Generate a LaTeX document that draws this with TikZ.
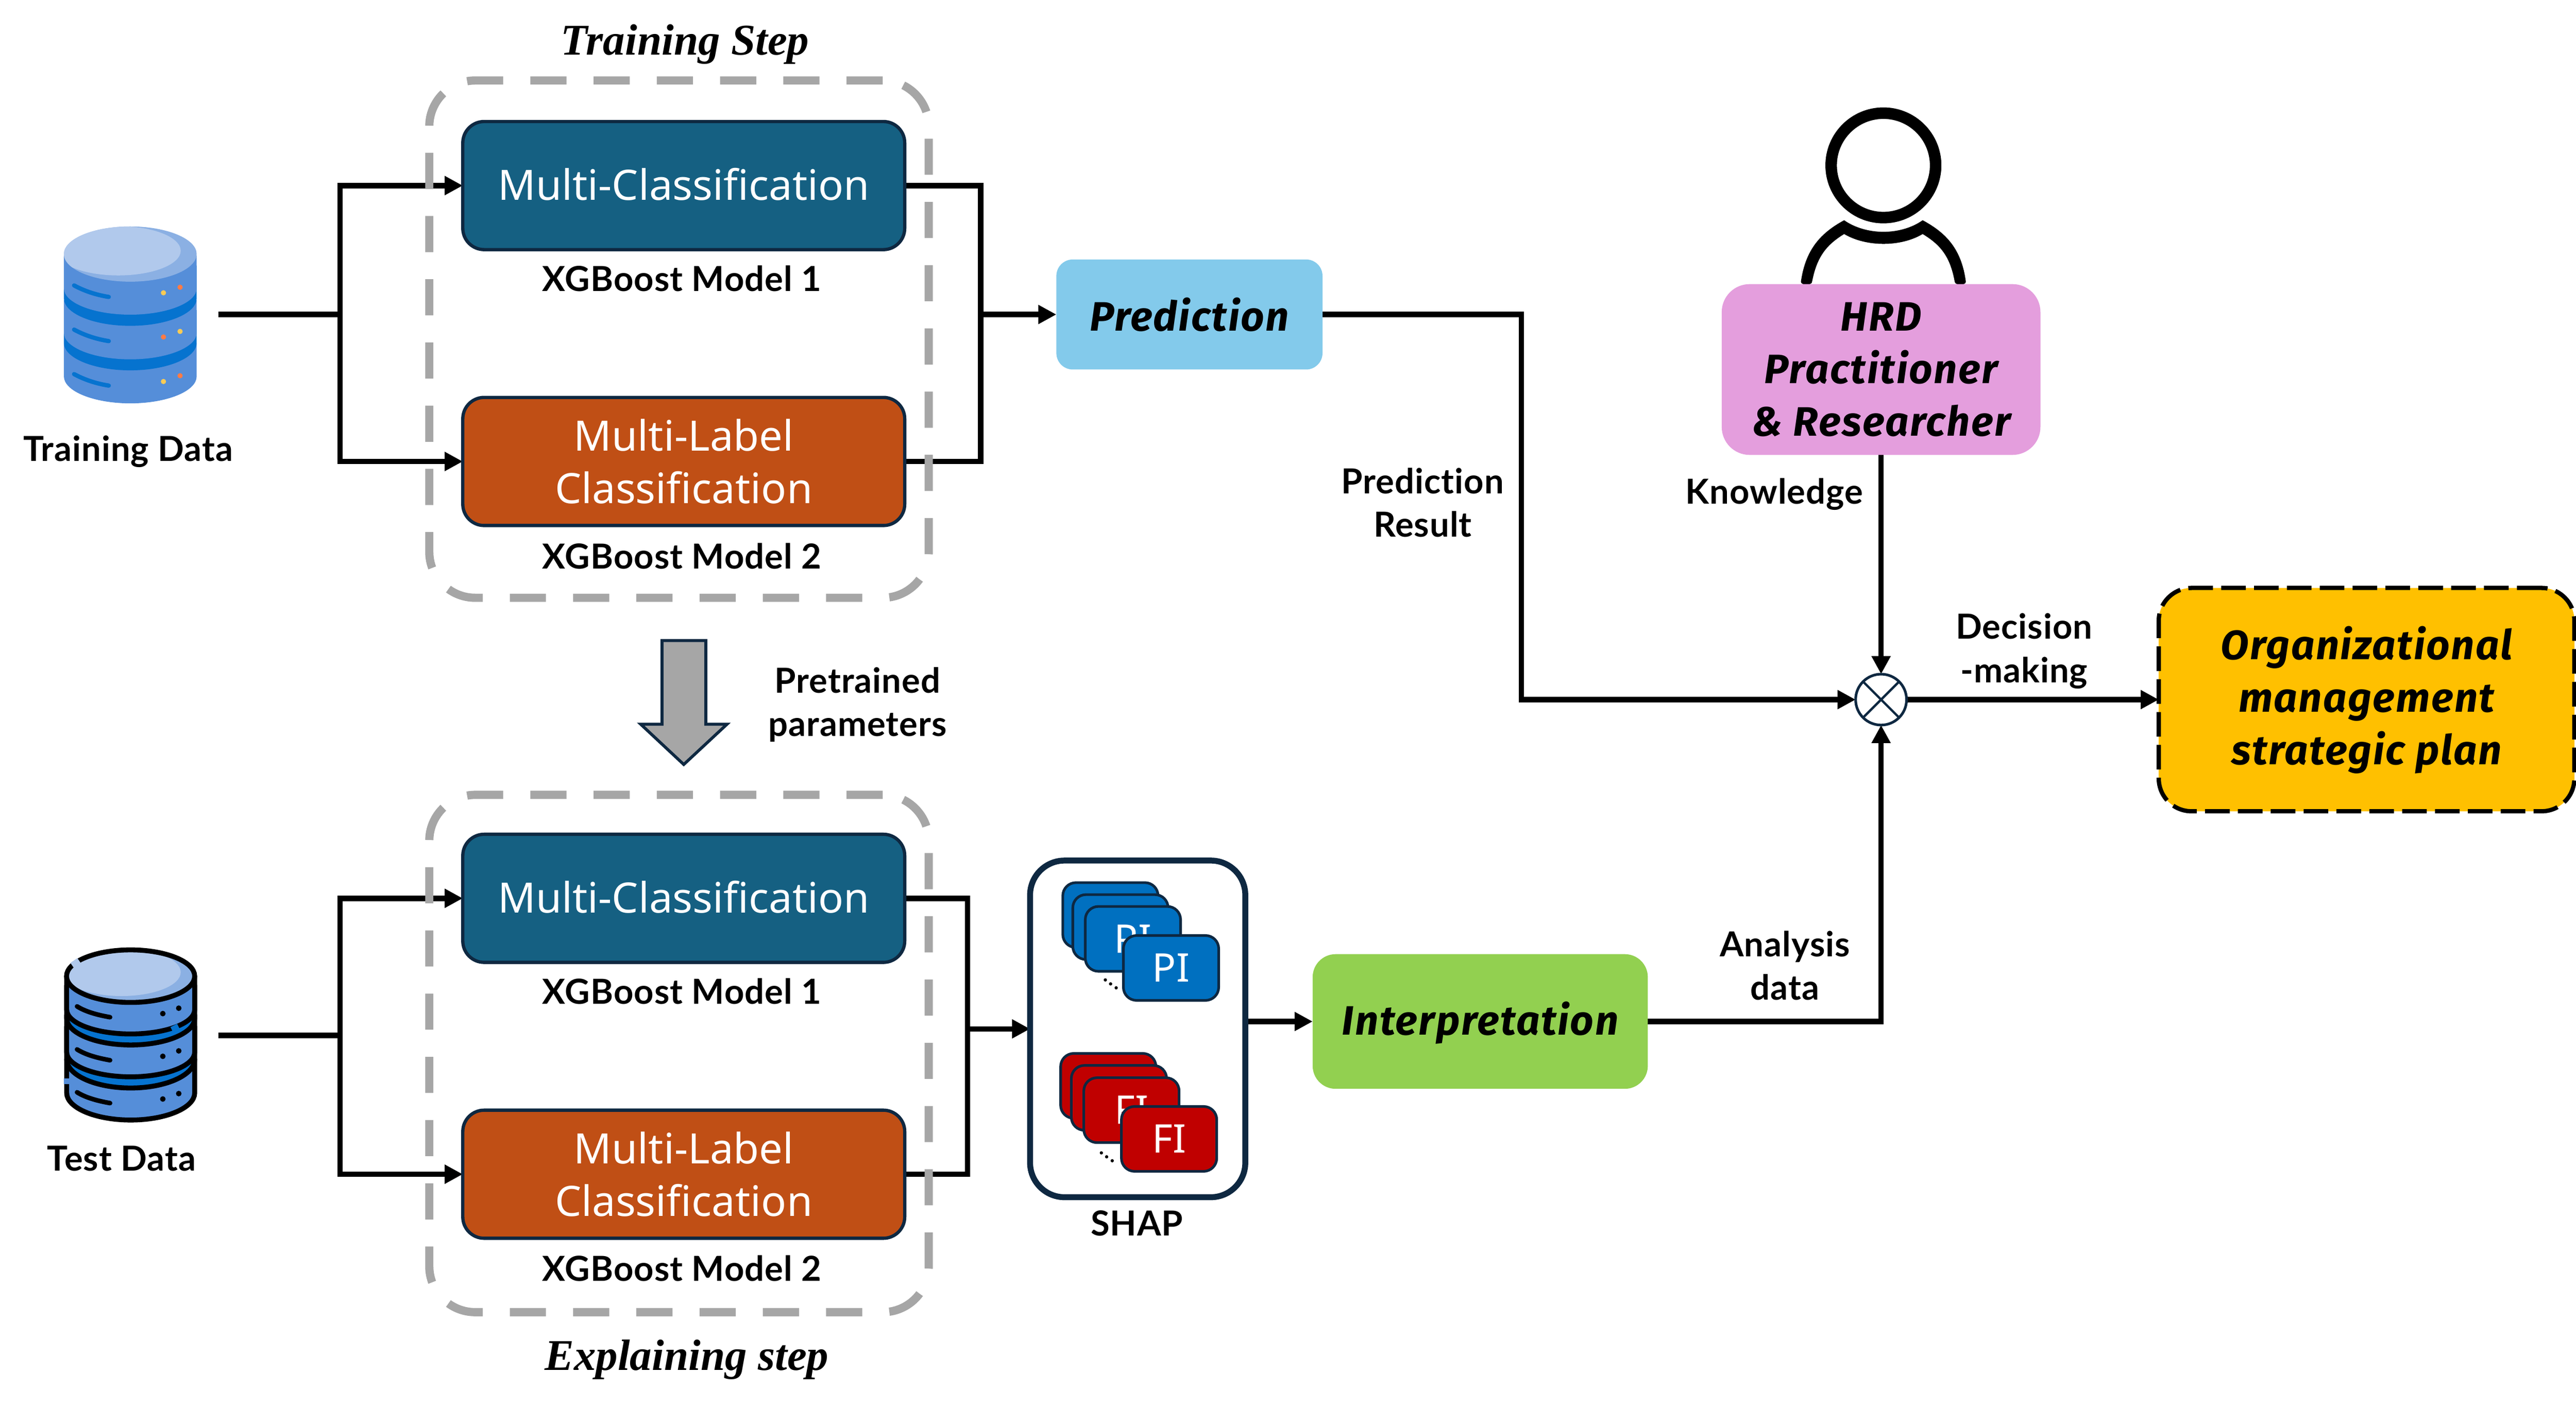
\documentclass[tikz,border=0pt]{standalone}
\usepackage{fontspec}
\setmainfont{Noto Sans}
\newfontfamily\serifbi{Liberation Serif}
\newfontfamily\labfont[Ligatures=NoCommon,LetterSpace=1.5]{Lato}
\newfontfamily\softfont[LetterSpace=3]{Fira Sans}
\usetikzlibrary{arrows.meta}
\definecolor{nav}{HTML}{0E2841}
\definecolor{modelblue}{HTML}{156082}
\definecolor{modelorange}{HTML}{C04F15}
\definecolor{gr}{HTML}{A6A6A6}
\definecolor{predc}{HTML}{83CAEB}
\definecolor{hrdc}{HTML}{E49EDD}
\definecolor{orgc}{HTML}{FFC000}
\definecolor{interc}{HTML}{92D050}
\definecolor{pic}{HTML}{0070C0}
\definecolor{fic}{HTML}{C00000}
\definecolor{dbbody}{HTML}{558ED9}
\definecolor{dbband}{HTML}{0673CF}
\definecolor{dblight}{HTML}{B1C9EC}
\definecolor{dbmid}{HTML}{8BB0E3}
\definecolor{dbyel}{HTML}{F9CB55}
\definecolor{dbora}{HTML}{FF7B45}
\pgfdeclarelayer{conn}
\pgfsetlayers{conn,main}
\newcommand{\halfell}[4]{(#1,#3) .. controls (#1,{#3+.55*#4}) and ({#1+.225*(#2-#1)},{#3+#4}) .. ({(#1+#2)/2},{#3+#4}) .. controls ({#2-.225*(#2-#1)},{#3+#4}) and (#2,{#3+.55*#4}) .. (#2,#3)}
\newcommand{\dbfill}[5]{\fill[#1] (#2,{#4-20}) -- \halfell{#2}{#3}{#4}{#5} -- (#3,{#4-20}) -- cycle;}
\newcommand{\dbsec}[6]{\fill[#1] (#2,#6) -- \halfell{#2}{#3}{#4}{#5} -- (#3,#6) -- cycle;
  \draw[line width=3pt,line cap=round] (#2,#6) -- \halfell{#2}{#3}{#4}{#5} -- (#3,#6);}
\tikzset{
  every node/.style={inner sep=0pt,outer sep=0pt},
  conn/.style={line width=3.3pt,line join=miter},
  arr/.style={conn,-{Triangle[length=11pt,width=11pt]}},
  graybox/.style={draw=gr,line width=5pt,rounded corners=28pt,dash pattern=on 22pt off 16.5pt,minimum width=304pt,minimum height=315pt},
  modelbox/.style={draw=nav,line width=2pt,rounded corners=13pt,minimum width=269pt,minimum height=78pt,text=white,align=center,font=\fontsize{25.5}{32}\selectfont},
  softbox/.style={rounded corners=#1,align=center,font=\softfont\fontsize{25}{32}\selectfont\bfseries\itshape},
  lab/.style={align=center,font=\labfont\fontsize{21}{26.5}\selectfont\bfseries},
  steptitle/.style={font=\fontsize{26.7}{32}\selectfont\serifbi\bfseries\itshape},
  card/.style={draw=nav,line width=1.6pt,rounded corners=8pt,minimum width=58pt,minimum height=39.5pt,text=white,font=\fontsize{24}{26}\selectfont},
}
\begin{document}
\begin{tikzpicture}[x=1pt,y=-1pt]
\useasboundingbox (0,0) rectangle (1568,856.75);
% --- training database icon
\dbfill{dbbody}{38.9}{119.7}{229.2}{16.4}
\dbfill{dbband}{38.9}{119.7}{208.8}{16.7}
\dbfill{dbbody}{38.9}{119.7}{202.7}{16.1}
\dbfill{dbband}{38.9}{119.7}{181.7}{16.7}
\dbfill{dbbody}{38.9}{119.7}{175.6}{16}
\fill[dbmid] (79.3,154.7) ellipse [x radius=40.4pt,y radius=16.8pt];
\begin{scope}
\clip (79.3,154.7) ellipse [x radius=40.4pt,y radius=16.8pt];
\fill[dblight] (72,152.7) ellipse [x radius=38pt,y radius=15pt];
\end{scope}
\foreach \yy in {0,26.9,54}{
  \draw[dbband,line width=2.6pt,line cap=round] (45.1,{173.8+\yy}) .. controls (51,{177+\yy}) and (58,{179.5+\yy}) .. (66.2,{180.8+\yy});}
\fill[dbyel] (99.5,178.3) circle (1.6pt);\fill[dbora] (109.6,174.9) circle (1.6pt);
\fill[dbora] (99.5,205.2) circle (1.6pt);\fill[dbyel] (109.6,201.8) circle (1.6pt);
\fill[dbyel] (99.5,232.3) circle (1.6pt);\fill[dbora] (109.6,228.8) circle (1.6pt);
% --- test database icon
\dbsec{dbbody}{40.6}{118.5}{665.5}{16.5}{645}
\dbsec{dbband}{40.6}{118.5}{645}{17.5}{625}
\dbsec{dbbody}{40.6}{118.5}{640.7}{15}{618}
\dbsec{dbband}{40.6}{118.5}{620}{16.3}{600}
\dbsec{dbbody}{40.6}{118.5}{614.8}{14.8}{594.4}
\fill[dbmid] (79.5,594.4) ellipse [x radius=39pt,y radius=16pt];
\begin{scope}
\clip (79.5,594.4) ellipse [x radius=39pt,y radius=16pt];
\fill[dblight] (74,592) ellipse [x radius=36pt,y radius=14.5pt];
\end{scope}
\draw[line width=3pt] (79.5,594.4) ellipse [x radius=39pt,y radius=16pt];
\draw[dblight,line width=3.6pt] (43.9,587.8) -- (48.1,584.9);
\draw[dbband,line width=3.6pt] (104.6,627) -- (108.6,625);
\draw[dbbody,line width=3.6pt] (40.6,656.8) -- (40.6,660.2);
\foreach \yy in {0,26.2,52.3}{
  \draw[line width=2.8pt,line cap=round] (46.9,{612.8+\yy}) .. controls (52,{616+\yy}) and (59,{618+\yy}) .. (67,{619.4+\yy});}
\foreach \yy in {0,26,52}{
  \fill (99.1,{617.2+\yy}) circle (1.7pt);\fill (108.8,{613.9+\yy}) circle (1.7pt);}
% --- person icon
\draw[line width=7pt] (1146.4,100.7) circle (31.8pt);
\fill[line join=round] (1096.2,171.5) .. controls (1099,152) and (1108,142) .. (1122.5,134.1)
  .. controls (1136,143.5) and (1157,143.5) .. (1170.3,134.1)
  .. controls (1185,142) and (1194,152) .. (1196.6,171.5)
  .. controls (1196.6,174) and (1190,174) .. (1189.8,171.5)
  .. controls (1187,156) and (1181,149) .. (1170.3,142.5)
  .. controls (1157,150.5) and (1136,150.5) .. (1122.5,142.5)
  .. controls (1112,149) and (1106,156) .. (1103,171.5)
  .. controls (1103,174) and (1096.2,174) .. (1096.2,171.5) -- cycle;
% --- training step
\node[graybox] (trainframe) at (413.3,206.5) {};
\node[modelbox,fill=modelblue] (mc1) at (416.2,113) {\rule[-2pt]{0pt}{1pt}Multi-Classification};
\node[modelbox,fill=modelorange] (ml1) at (416.2,281) {Multi-Label\\Classification};
\node[lab] (xg1) at (415,169.5) {XGBoost Model 1};
\node[lab] (xg2) at (415,338.5) {XGBoost Model 2};
\node[steptitle] (traintitle) at (417,27) {Training Step};
% --- explaining step
\node[graybox] (testframe) at (413.3,641.5) {};
\node[modelbox,fill=modelblue] (mc2) at (416.2,547) {\rule[-2pt]{0pt}{1pt}Multi-Classification};
\node[modelbox,fill=modelorange] (ml2) at (416.2,715) {Multi-Label\\Classification};
\node[lab] (xg3) at (415,603.5) {XGBoost Model 1};
\node[lab] (xg4) at (415,772.5) {XGBoost Model 2};
\node[steptitle] (testtitle) at (418,828) {Explaining step};
% --- data labels
\node[lab] (trainlab) at (78,275) {Training Data};
\node[lab] (testlab) at (74,705.5) {Test Data};
\coordinate (trainout) at (133,191.5);
\coordinate (testout) at (133,630.5);
\coordinate (j1) at (207,191.5);
\coordinate (j2) at (207,630.5);
\coordinate (j3) at (597,191.5);
\coordinate (j4) at (589,626.5);
% --- prediction and the others
\node[softbox=10pt,fill=predc,minimum width=162pt,minimum height=67pt] (pred) at (724,191.5) {Prediction};
\node[softbox=17pt,fill=hrdc,minimum width=194pt,minimum height=104pt] (hrd) at (1145,225) {HRD\\Practitioner\\\& Researcher};
\node[softbox=20pt,fill=orgc,draw=black,line width=2.6pt,dash pattern=on 15pt off 5pt,minimum width=253pt,minimum height=136pt] (org) at (1440.5,426) {\rule{0pt}{20.5pt}Organizational\\management\\strategic plan};
\node[softbox=14pt,fill=interc,minimum width=204pt,minimum height=82pt] (inter) at (901,622) {\rule{0pt}{22pt}Interpretation};
\node[circle,draw=nav,line width=1.6pt,fill=white,minimum size=31pt] (mix) at (1145,426) {};
\draw[nav,line width=1.4pt] (mix.45) -- (mix.225) (mix.135) -- (mix.315);
% --- SHAP
\node[draw=nav,line width=3.6pt,rounded corners=21pt,fill=white,minimum width=131pt,minimum height=205pt] (shap) at (692.5,626.5) {};
\node[card,fill=pic] (pi1) at (675.9,557.2) {};
\node[card,fill=pic] (pi2) at (682,564.5) {};
\node[card,fill=pic] (pi3) at (689.6,571.7) {PI};
\node[card,fill=pic] (pi4) at (712.8,589.4) {PI};
\node[card,fill=fic] (fi1) at (674.6,661.2) {};
\node[card,fill=fic] (fi2) at (681.1,668.5) {};
\node[card,fill=fic] (fi3) at (688.7,676) {FI};
\node[card,fill=fic] (fi4) at (711.6,693.5) {FI};
\foreach \dx/\dy [count=\i] in {672.8/596.7,676/599.1,679.4/601.5,670.4/702,673.6/704.4,677/706.8}
  \fill (\dx,\dy) circle (1pt);
\node[lab] (shaplab) at (692,745) {SHAP};
% --- edge labels
\node[lab] (predres) at (866,306) {Prediction\\Result};
\node[lab] (know) at (1080,301) {Knowledge};
\node[lab] (dec) at (1232,396.5) {Decision\\-making};
\node[lab] (ana) at (1086.5,588) {Analysis\\data};
\node[lab] (pre) at (522,429) {Pretrained\\parameters};
% --- block arrow
\draw[fill=gr,draw=nav,line width=1.8pt,line join=miter] (403,390) -- (429.6,390) -- (429.6,441) -- (442.5,441) -- (416.2,465.5) -- (390,441) -- (403,441) -- cycle;
% --- connectors
\begin{pgfonlayer}{conn}
\draw[conn] (trainout) -- (j1);
\draw[arr] (j1) |- (mc1.west);
\draw[arr] (j1) |- (ml1.west);
\draw[conn] (testout) -- (j2);
\draw[arr] (j2) |- (mc2.west);
\draw[arr] (j2) |- (ml2.west);
\draw[conn] (mc1.east) -| (j3);
\draw[conn] (ml1.east) -| (j3);
\draw[arr] (j3) -- (pred.west);
\draw[conn] (mc2.east) -| (j4);
\draw[conn] (ml2.east) -| (j4);
\draw[arr] (j4) -- (shap.west |- j4);
\draw[arr] (shap.east |- inter.west) -- (inter.west);
\draw[arr] (pred.east) -- (926,191.5) |- (mix.west);
\draw[arr] (hrd.south) -- (mix.north);
\draw[arr] (inter.east) -| (mix.south);
\draw[arr] (mix.east) -- (org.west);
\end{pgfonlayer}
\end{tikzpicture}
\end{document}
